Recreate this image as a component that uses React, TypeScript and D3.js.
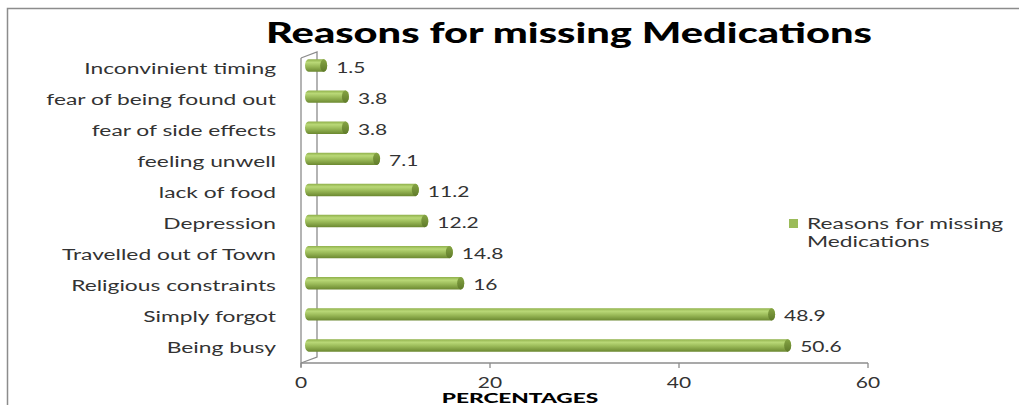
import React, { useEffect, useRef } from 'react';
import * as d3 from 'd3';

const categories = [
  'Inconvinient timing',
  'fear of being found out',
  'fear of side effects',
  'feeling unwell',
  'lack of food',
  'Depression',
  'Travelled out of Town',
  'Religious constraints',
  'Simply forgot',
  'Being busy',
];
const values = [1.5, 3.8, 3.8, 7.1, 11.2, 12.2, 14.8, 16, 48.9, 50.6];
const xTicks = [0, 20, 40, 60];
const seriesName = 'Reasons for missing Medications';

const App: React.FC = () => {
  const svgRef = useRef<SVGSVGElement>(null);

  useEffect(() => {
    if (!svgRef.current) return;
    const svg = d3.select(svgRef.current);
    svg.selectAll('*').remove();

    const font = 'Lato, "Open Sans", sans-serif';
    const textColor = '#333';
    const sx = 1.52; // text in the source is stretched sideways

    // frame
    svg.append('rect')
      .attr('x', 7.5).attr('y', 8.5)
      .attr('width', 1030).attr('height', 420)
      .attr('fill', 'none').attr('stroke', '#8c8c8c').attr('stroke-width', 1.5);

    const x = d3.scaleLinear().domain([0, 60]).range([301, 868]);
    const y = d3.scaleBand<string>().domain(categories).range([50, 361]).paddingInner(0.6).paddingOuter(0.3);
    const depth = 16;
    const floorY = 363;

    const defs = svg.append('defs');
    const grad = defs.append('linearGradient')
      .attr('id', 'bar-grad').attr('x1', 0).attr('y1', 0).attr('x2', 0).attr('y2', 1);
    grad.append('stop').attr('offset', '0%').attr('stop-color', '#8fb04a');
    grad.append('stop').attr('offset', '25%').attr('stop-color', '#b9d877');
    grad.append('stop').attr('offset', '55%').attr('stop-color', '#9bbb59');
    grad.append('stop').attr('offset', '100%').attr('stop-color', '#6b8830');
    const capGrad = defs.append('linearGradient')
      .attr('id', 'cap-grad').attr('x1', 0).attr('y1', 0).attr('x2', 0).attr('y2', 1);
    capGrad.append('stop').attr('offset', '0%').attr('stop-color', '#86a544');
    capGrad.append('stop').attr('offset', '100%').attr('stop-color', '#5f7a2a');

    // title
    svg.append('text')
      .attr('x', 569).attr('y', 43)
      .attr('text-anchor', 'middle')
      .attr('font-family', font).attr('font-weight', 900).attr('font-size', 29)
      .attr('textLength', 606).attr('lengthAdjust', 'spacingAndGlyphs')
      .attr('fill', '#000')
      .text(seriesName);

    // 3D side wall
    const wall = svg.append('g').attr('fill', 'none').attr('stroke', '#8c8c8c').attr('stroke-width', 1.3);
    wall.append('path')
      .attr('d', `M${x(0)},${y.range()[0] + 8} L${x(0) + depth},${y.range()[0] + 2} L${x(0) + depth},${floorY - 6} L${x(0)},${floorY}`);
    wall.append('line')
      .attr('x1', x(0)).attr('x2', x(0))
      .attr('y1', y.range()[0] + 8).attr('y2', floorY + 4);

    // floor axis
    svg.append('line')
      .attr('x1', x(0)).attr('x2', x(60))
      .attr('y1', floorY).attr('y2', floorY)
      .attr('stroke', '#8c8c8c').attr('stroke-width', 1.3);
    svg.selectAll('.tick')
      .data(xTicks)
      .join('line')
      .attr('x1', d => x(d)).attr('x2', d => x(d))
      .attr('y1', floorY).attr('y2', floorY + 5)
      .attr('stroke', '#8c8c8c').attr('stroke-width', 1.3);
    svg.selectAll('.tick-label')
      .data(xTicks)
      .join('text')
      .attr('transform', d => `translate(${x(d)},${388}) scale(1.4,1)`)
      .attr('text-anchor', 'middle')
      .attr('font-family', font).attr('font-size', 15)
      .attr('fill', textColor)
      .text(d => d);

    svg.append('text')
      .attr('transform', `translate(520,403) scale(1.62,1)`)
      .attr('text-anchor', 'middle')
      .attr('font-family', font).attr('font-weight', 900).attr('font-size', 14)
      .attr('fill', '#000')
      .text('PERCENTAGES');

    // category labels
    svg.selectAll('.cat')
      .data(categories)
      .join('text')
      .attr('transform', d => `translate(276,${y(d)! + y.bandwidth() / 2 + 8}) scale(${sx},1)`)
      .attr('text-anchor', 'end')
      .attr('font-family', font).attr('font-size', 15)
      .attr('fill', textColor)
      .text(d => d);

    // bars as horizontal cylinders
    const bh = y.bandwidth();
    const rx = 3.5;
    const bars = svg.append('g');
    categories.forEach((c, i) => {
      const v = values[i];
      const x0 = x(0) + 4;
      const x1 = x(v) + 12;
      const top = y(c)!;
      bars.append('path')
        .attr('d', `M${x0 + rx},${top} L${x1 - rx},${top} A${rx},${bh / 2} 0 0 1 ${x1 - rx},${top + bh} L${x0 + rx},${top + bh} A${rx},${bh / 2} 0 0 1 ${x0 + rx},${top} Z`)
        .attr('fill', 'url(#bar-grad)');
      bars.append('ellipse')
        .attr('cx', x1 - rx).attr('cy', top + bh / 2)
        .attr('rx', rx).attr('ry', bh / 2)
        .attr('fill', 'url(#cap-grad)');
      bars.append('text')
        .attr('transform', `translate(${x1 + 9},${top + bh / 2 + 7}) scale(1.4,1)`)
        .attr('font-family', font).attr('font-size', 15)
        .attr('fill', textColor)
        .text(String(v));
    });

    // legend
    svg.append('rect')
      .attr('x', 789).attr('y', 219).attr('width', 9).attr('height', 9)
      .attr('fill', '#9bbb59');
    const lt = svg.append('text')
      .attr('transform', `translate(807,229) scale(${sx},1)`)
      .attr('font-family', font).attr('font-size', 15)
      .attr('fill', textColor);
    lt.append('tspan').attr('x', 0).attr('dy', 0).text('Reasons for missing');
    lt.append('tspan').attr('x', 0).attr('dy', 18).text('Medications');
  }, []);

  return (
    <svg
      ref={svgRef}
      width={1019}
      height={405}
      style={{ position: 'fixed', left: 0, top: 0, background: '#fff' }}
    />
  );
};

export default App;
